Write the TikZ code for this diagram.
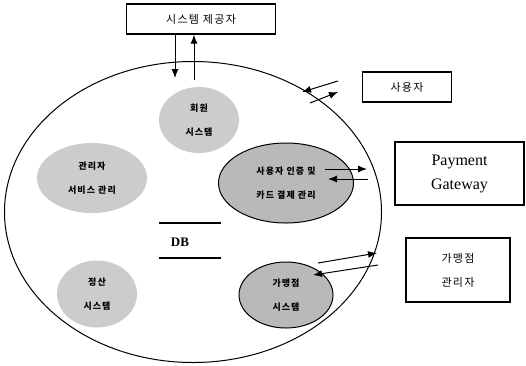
\documentclass[tikz,border=0pt]{standalone}
\usepackage{fontspec}
\setmainfont{Liberation Serif}
\newfontfamily\kor[LetterSpace=12]{Noto Sans CJK KR}
\usetikzlibrary{shapes.geometric}
\usetikzlibrary{arrows.meta}
\tikzset{
  box/.style={draw, line width=1.3pt, inner sep=0pt, align=center,
    font=\kor\fontsize{11}{24}\selectfont},
  part/.style={ellipse, fill=gray!40, inner sep=0pt, align=center,
    font=\kor\bfseries\fontsize{9}{24}\selectfont},
  partline/.style={part, draw, line width=1pt, fill=gray!55},
  flow/.style={-{Latex[length=9pt,width=7pt]}, line width=1pt},
}

\begin{document}
\begin{tikzpicture}[x=1pt,y=-1pt]
        \useasboundingbox (0,0) rectangle (526,365);

        % the whole service
        \node[draw, ellipse, line width=1pt, minimum width=377pt, minimum height=301pt] (sys) at (193,212) {};

        % outside parties
        \node[box, minimum width=149pt, minimum height=30pt] (prov) at (201,19) {시스템 제공자};
        \node[box, minimum width=89pt, minimum height=30pt] (user) at (407,87) {사용자};
        \node[box, minimum width=129pt, minimum height=63pt, font=\fontsize{16}{24}\selectfont] (pg) at (459.5,173.5) {Payment\\Gateway};
        \node[box, minimum width=104pt, minimum height=64pt] (shop) at (458,270) {가맹점\\관리자};

        % parts inside
        \node[part, minimum width=80pt, minimum height=66pt] (center) at (199,120) {회원\\시스템};
        \node[part, minimum width=110pt, minimum height=70pt] (svc) at (92,178) {관리자\\서비스 관리};
        \node[partline, minimum width=135pt, minimum height=80pt] (auth) at (286,183) {사용자 인증 및\\카드 결제 관리};
        \node[part, minimum width=80pt, minimum height=67pt] (calc) at (97,294) {정산\\시스템};
        \node[partline, minimum width=94pt, minimum height=66pt] (mgr) at (286,295) {가맹점\\시스템};

        % DB
        \node[font=\bfseries\fontsize{13}{15}\selectfont] (db) at (180,242) {DB};
        \draw[line width=1.3pt] (159,223) -- (221,223);
        \draw[line width=1.3pt] (159,258) -- (221,258);

        % provider
        \coordinate (provin) at (175,78);
        \coordinate (provout) at (194,80);
        \draw[flow] (prov.south -| provin) -- (provin);
        \draw[flow] (provout) -- (provout |- prov.south);

        % user
        \coordinate (usrin) at (338,81);
        \coordinate (usrinend) at (302,92);
        \coordinate (usrout) at (310,103);
        \coordinate (usroutend) at (338,92);
        \draw[flow] (usrin) -- (usrinend);
        \draw[flow] (usrout) -- (usroutend);

        % payment gateway
        \coordinate (pgout) at (325,169);
        \coordinate (pgoutend) at (367,169);
        \coordinate (pgin) at (368,179);
        \coordinate (pginend) at (328,179);
        \draw[flow] (pgout) -- (pgoutend);
        \draw[flow] (pgin) -- (pginend);

        % shop manager
        \coordinate (shopout) at (318,263);
        \coordinate (shopoutend) at (377,253);
        \coordinate (shopin) at (378,265);
        \coordinate (shopinend) at (313,275);
        \draw[flow] (shopout) -- (shopoutend);
        \draw[flow] (shopin) -- (shopinend);

\end{tikzpicture}
\end{document}
